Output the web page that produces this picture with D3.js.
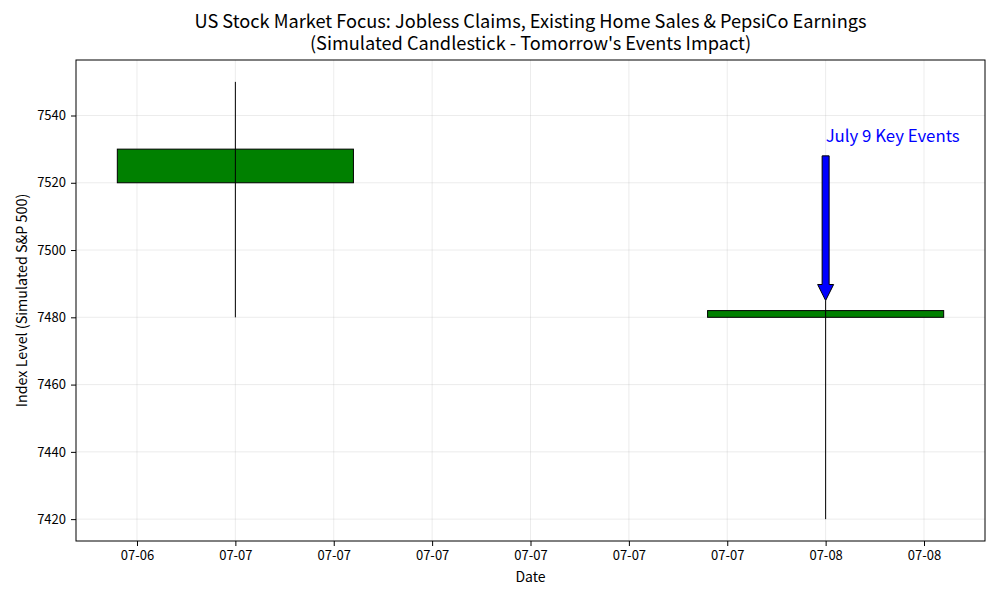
<!DOCTYPE html>
<html><head><meta charset="utf-8">
<script src="https://cdn.jsdelivr.net/npm/d3@7"></script>
<style>body{margin:0;background:#fff;} text{font-family:"Noto Sans CJK SC","Noto Sans",sans-serif;}</style>
</head><body>
<svg id="c" width="1000" height="600"></svg>
<script>
const dates = ["2025-07-07T00:00:00", "2025-07-08T00:00:00"];
const opens = [7520, 7480];
const closes = [7530, 7482];
const highs = [7550, 7485];
const lows = [7480, 7420];
const tickTimes = ["2025-07-06T20:00:00","2025-07-07T00:00:00","2025-07-07T04:00:00","2025-07-07T08:00:00","2025-07-07T12:00:00","2025-07-07T16:00:00","2025-07-07T20:00:00","2025-07-08T00:00:00","2025-07-08T04:00:00"];
const yTicks = [7420, 7440, 7460, 7480, 7500, 7520, 7540];
const annotText = "July 9 Key Events";
const annotFrom = 7528, annotTo = 7485, annotTextY = 7532;
const titleLines = ["US Stock Market Focus: Jobless Claims, Existing Home Sales & PepsiCo Earnings", "(Simulated Candlestick - Tomorrow's Events Impact)"];

const parse = d3.timeParse("%Y-%m-%dT%H:%M:%S");
const data = dates.map((d,i)=>({t:parse(d),o:opens[i],c:closes[i],h:highs[i],l:lows[i]}));
const halfW = 0.2*864e5;

const svg = d3.select("#c");
const L=76,R=985,T=60,B=541;
const tmin = d3.min(data,d=>+d.t)-halfW, tmax = d3.max(data,d=>+d.t)+halfW;
const tpad = (tmax-tmin)*0.05;
const x = d3.scaleTime().domain([new Date(tmin-tpad), new Date(tmax+tpad)]).range([L,R]);
const ymin = d3.min(data,d=>d.l), ymax = d3.max(data,d=>d.h);
const ypad = (ymax-ymin)*0.05;
const y = d3.scaleLinear().domain([ymin-ypad, ymax+ypad]).range([B,T]);

const ticks = tickTimes.map(parse);
// grid
svg.append("g").selectAll("line").data(ticks).join("line")
  .attr("x1",d=>x(d)).attr("x2",d=>x(d)).attr("y1",T).attr("y2",B)
  .attr("stroke","#b0b0b0").attr("stroke-opacity",0.3).attr("stroke-width",0.8);
svg.append("g").selectAll("line").data(yTicks).join("line")
  .attr("y1",d=>y(d)).attr("y2",d=>y(d)).attr("x1",L).attr("x2",R)
  .attr("stroke","#b0b0b0").attr("stroke-opacity",0.3).attr("stroke-width",0.8);

// candles
const g = svg.append("g");
g.selectAll(".wick").data(data).join("line")
  .attr("x1",d=>x(d.t)).attr("x2",d=>x(d.t)).attr("y1",d=>y(d.h)).attr("y2",d=>y(d.l))
  .attr("stroke","#000").attr("stroke-width",1);
g.selectAll(".body").data(data).join("rect")
  .attr("x",d=>x(new Date(+d.t-halfW))).attr("width",d=>x(new Date(+d.t+halfW))-x(new Date(+d.t-halfW)))
  .attr("y",d=>y(Math.max(d.o,d.c))).attr("height",d=>Math.abs(y(d.o)-y(d.c)))
  .attr("fill",d=>d.c>=d.o?"green":"red").attr("stroke","#000").attr("stroke-width",1);
g.selectAll(".wick2").data(data).join("line")
  .attr("x1",d=>x(d.t)).attr("x2",d=>x(d.t)).attr("y1",d=>y(Math.max(d.o,d.c))).attr("y2",d=>y(Math.min(d.o,d.c)))
  .attr("stroke","#000").attr("stroke-width",1);

// annotation arrow
const ax = x(data[1].t);
const y0 = y(annotFrom), y1 = y(annotTo);
const sw = 3.5, hw = 8, hl = 16;
const pts = [[ax-sw,y0],[ax+sw,y0],[ax+sw,y1-hl],[ax+hw,y1-hl],[ax,y1],[ax-hw,y1-hl],[ax-sw,y1-hl]];
svg.append("path").attr("d",d3.line()(pts)+"Z").attr("fill","blue").attr("stroke","#000").attr("stroke-width",1);
svg.append("text").attr("x",ax).attr("y",y(annotTextY)).attr("fill","blue").attr("font-size",16.8).text(annotText);

// axes
const xa = svg.append("g").attr("transform",`translate(0,${B})`)
  .call(d3.axisBottom(x).tickValues(ticks).tickFormat(d3.timeFormat("%m-%d")).tickSize(5).tickPadding(5));
const ya = svg.append("g").attr("transform",`translate(${L},0)`)
  .call(d3.axisLeft(y).tickValues(yTicks).tickSize(5).tickPadding(5).tickFormat(d3.format("d")));
[xa,ya].forEach(a=>{a.select(".domain").remove();a.selectAll("text").attr("font-size",13).attr("fill","#000");a.selectAll("line").attr("stroke","#000");});
svg.append("rect").attr("x",L).attr("y",T).attr("width",R-L).attr("height",B-T).attr("fill","none").attr("stroke","#000").attr("stroke-width",1);

svg.append("text").attr("x",(L+R)/2).attr("y",582).attr("text-anchor","middle").attr("font-size",14).text("Date");
svg.append("text").attr("transform",`translate(27,${(T+B)/2}) rotate(-90)`).attr("text-anchor","middle").attr("font-size",14.3).text("Index Level (Simulated S&P 500)");
const title = svg.append("text").attr("text-anchor","middle").attr("font-size",18.2);
title.selectAll("tspan").data(titleLines).join("tspan")
  .attr("x",(L+R)/2).attr("y",(d,i)=>28+i*22).text(d=>d);
</script>
</body></html>
